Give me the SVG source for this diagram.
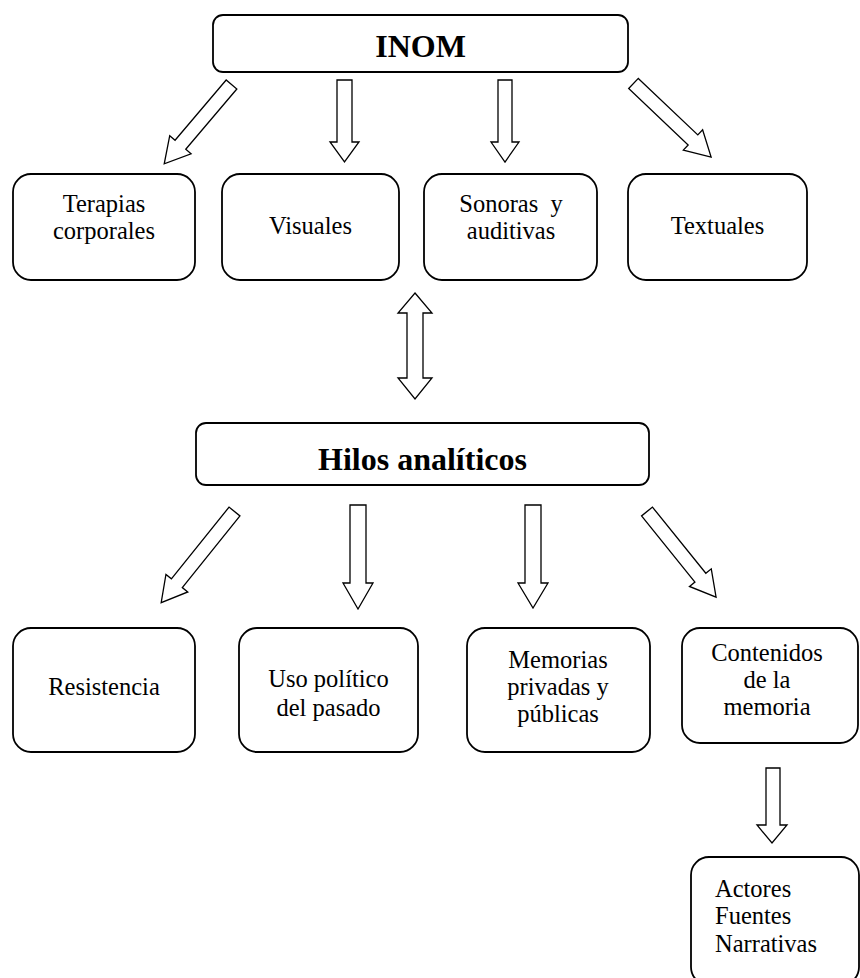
<svg xmlns="http://www.w3.org/2000/svg" width="860" height="978" viewBox="0 0 860 978">
<style>
.box{fill:#fff;stroke:#000;stroke-width:1.8}
.arr{fill:#fff;stroke:#000;stroke-width:1.3;stroke-linejoin:miter}
.t{font-family:"Liberation Serif","Times New Roman",serif;font-size:24.5px;fill:#000;text-anchor:middle;white-space:pre}
.b{font-family:"Liberation Serif","Times New Roman",serif;font-size:32px;font-weight:bold;fill:#000;text-anchor:middle}
</style>
<rect width="860" height="978" fill="#fff"/>
<g id="connectors">
<g transform="translate(231.5,84.5) rotate(130.3)"><polygon class="arr" points="0,-7 79,-7 79,-14 104,0 79,14 79,7 0,7"/></g>
<polygon class="arr" points="337,80 352,80 352,142 359,142 344.5,162 330,142 337,142"/>
<polygon class="arr" points="498,80 512,80 512,142 519,142 505,162 491,142 498,142"/>
<g transform="translate(633.5,83.5) rotate(43.5)"><polygon class="arr" points="0,-7 82,-7 82,-14 107,0 82,14 82,7 0,7"/></g>
<polygon class="arr" points="415,293 432,313 423,313 423,378 432,378 415,399 398,378 407,378 407,313 398,313"/>
<g transform="translate(234.5,511.5) rotate(128.8)"><polygon class="arr" points="0,-7 92,-7 92,-14 117,0 92,14 92,7 0,7"/></g>
<polygon class="arr" points="350,505 366,505 366,583 373,583 358,609 343,583 350,583"/>
<polygon class="arr" points="525,505 541,505 541,583 548,583 533,608 518,583 525,583"/>
<g transform="translate(647,511.5) rotate(51.1)"><polygon class="arr" points="0,-7 85,-7 85,-14 110,0 85,14 85,7 0,7"/></g>
<polygon class="arr" points="766,768 780,768 780,825 787,825 772,843 757,825 766,825"/>
</g>
<g id="inom"><rect class="box" x="213" y="15" width="415" height="57" rx="10"/><text class="b" x="420.5" y="57">INOM</text></g>
<g id="terapias"><rect class="box" x="13" y="174" width="182" height="106" rx="18"/><text class="t" x="104" y="212">Terapias</text><text class="t" x="104" y="239">corporales</text></g>
<g id="visuales"><rect class="box" x="222" y="174" width="177" height="106" rx="18"/><text class="t" x="310.5" y="234">Visuales</text></g>
<g id="sonoras"><rect class="box" x="424" y="174" width="173" height="106" rx="18"/><text class="t" x="511" y="212">Sonoras  y</text><text class="t" x="511" y="239">auditivas</text></g>
<g id="textuales"><rect class="box" x="628" y="174" width="179" height="106" rx="18"/><text class="t" x="717.5" y="234">Textuales</text></g>
<g id="hilos"><rect class="box" x="196" y="423" width="453" height="62" rx="10"/><text class="b" x="422.5" y="470">Hilos analíticos</text></g>
<g id="resistencia"><rect class="box" x="13" y="628" width="182" height="124" rx="18"/><text class="t" x="104" y="695">Resistencia</text></g>
<g id="uso"><rect class="box" x="239" y="628" width="179" height="124" rx="18"/><text class="t" x="328.5" y="687">Uso político</text><text class="t" x="328.5" y="716">del pasado</text></g>
<g id="memorias"><rect class="box" x="467" y="628" width="183" height="124" rx="18"/><text class="t" x="558" y="668">Memorias</text><text class="t" x="558" y="695">privadas y</text><text class="t" x="558" y="722">públicas</text></g>
<g id="contenidos"><rect class="box" x="682" y="628" width="176" height="115" rx="18"/><text class="t" x="767" y="661">Contenidos</text><text class="t" x="767" y="688">de la</text><text class="t" x="767" y="715">memoria</text></g>
<g id="actores"><rect class="box" x="691" y="857" width="168" height="128" rx="18"/><text class="t" x="715" y="897" style="text-anchor:start">Actores</text><text class="t" x="715" y="924" style="text-anchor:start">Fuentes</text><text class="t" x="715" y="952" style="text-anchor:start">Narrativas</text></g>
</svg>
